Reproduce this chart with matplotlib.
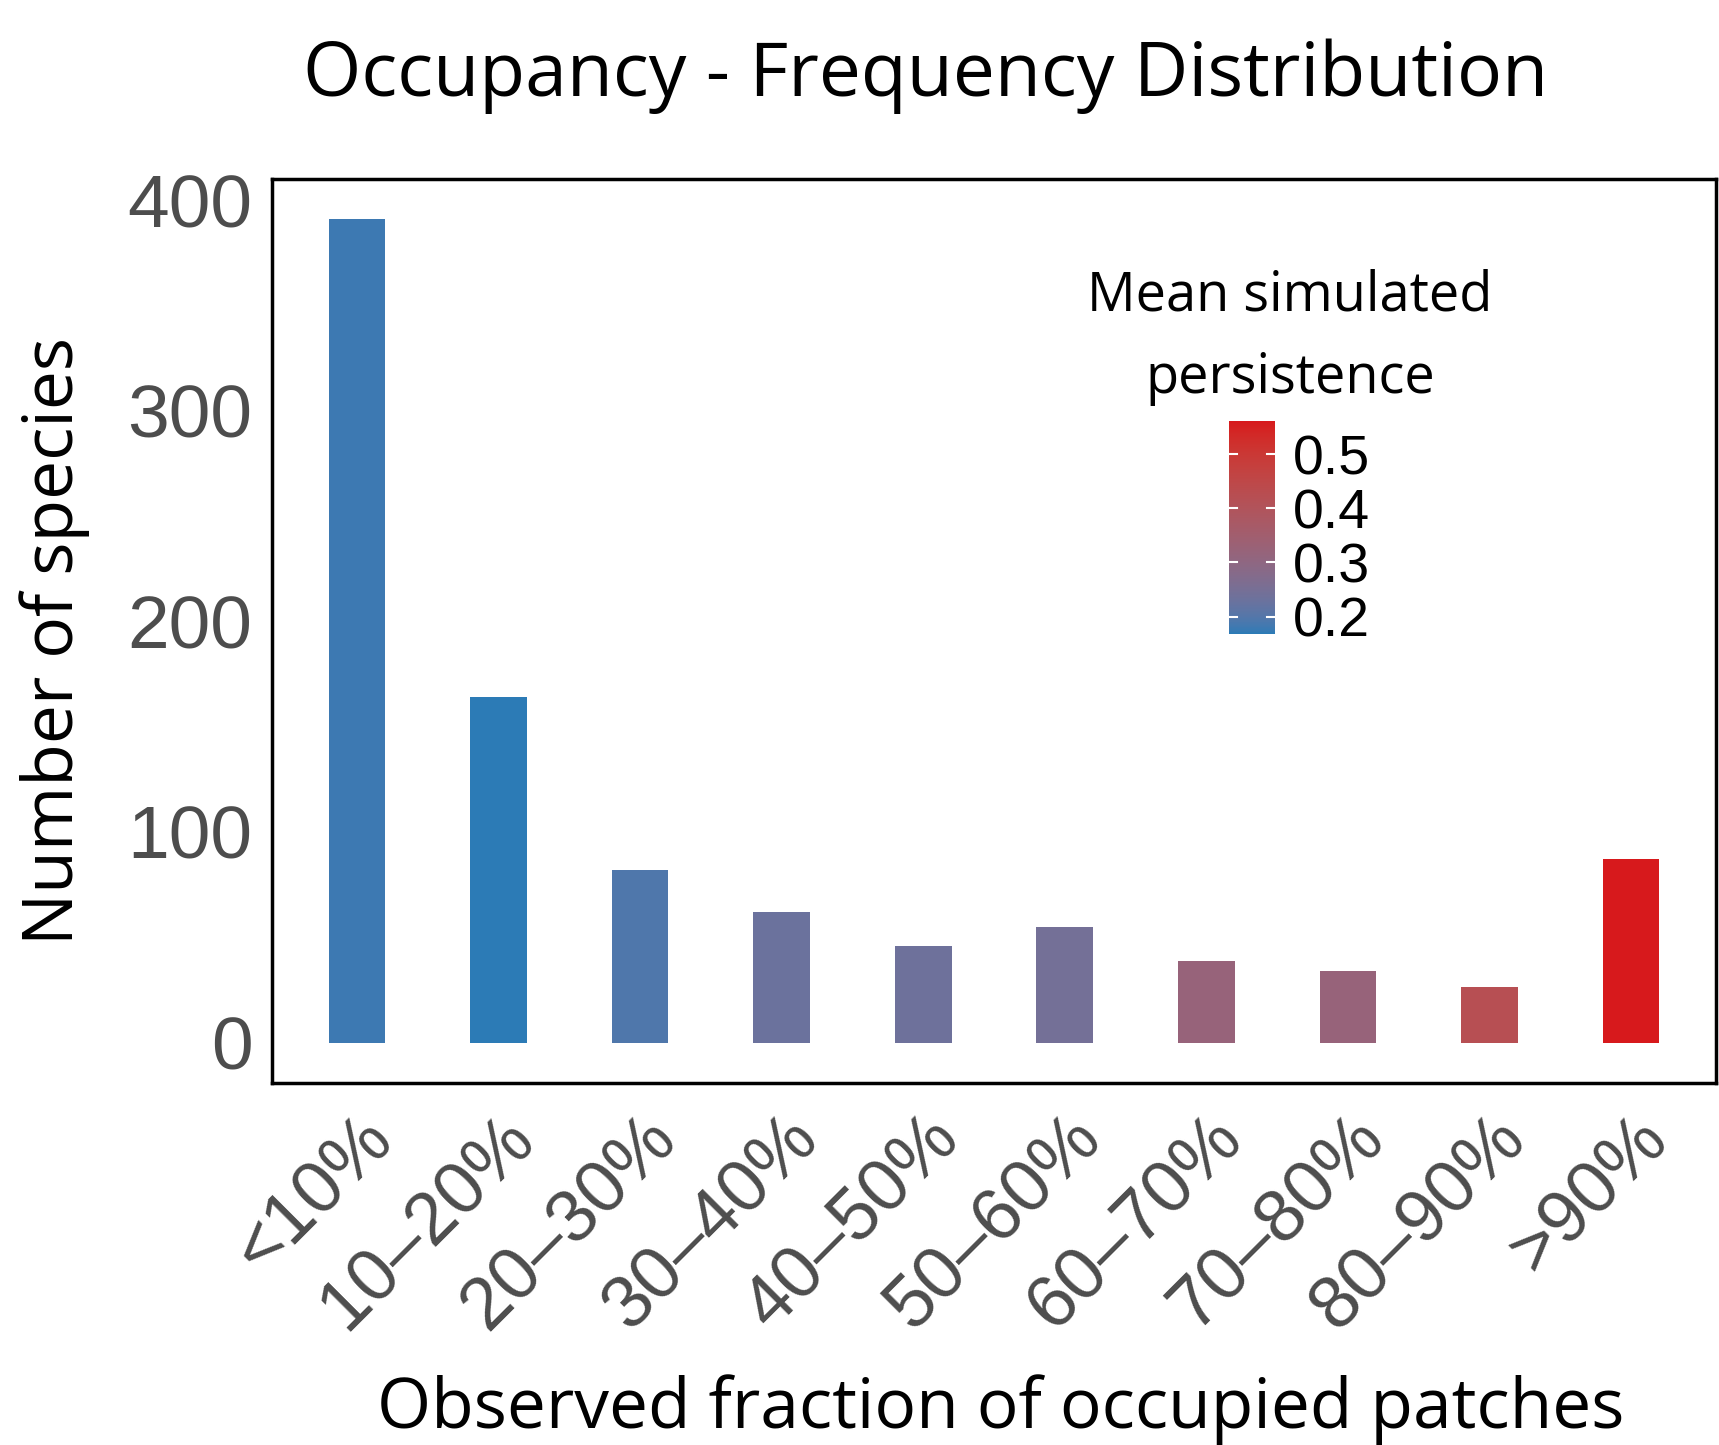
import numpy as np
import matplotlib
matplotlib.use("Agg")
import matplotlib.pyplot as plt
from matplotlib.colors import ListedColormap, Normalize
import matplotlib.transforms as mtransforms

categories = ["<10%", "10\u201320%", "20\u201330%", "30\u201340%", "40\u201350%",
              "50\u201360%", "60\u201370%", "70\u201380%", "80\u201390%", ">90%"]
species_counts = [391, 164, 82, 62, 46, 55, 38.5, 34, 26.5, 87]
mean_persistence = [0.18, 0.168, 0.195, 0.23, 0.235, 0.245, 0.32, 0.32, 0.42, 0.561]
y_ticks = [0, 100, 200, 300, 400]
cbar_ticks = [0.2, 0.3, 0.4, 0.5]
low_color = "#2C7BB6"
high_color = "#D7191C"

# ---- Lab-space gradient (like ggplot2 scale_fill_gradient) ----
def _srgb_to_lin(c):
    c = np.asarray(c, float)
    return np.where(c <= 0.04045, c / 12.92, ((c + 0.055) / 1.055) ** 2.4)

def _lin_to_srgb(c):
    c = np.clip(c, 0, 1)
    return np.where(c <= 0.0031308, 12.92 * c, 1.055 * c ** (1 / 2.4) - 0.055)

M = np.array([[0.4124, 0.3576, 0.1805], [0.2126, 0.7152, 0.0722], [0.0193, 0.1192, 0.9505]])
WP = np.array([0.95047, 1.0, 1.08883])

def _f(t):
    d = 6 / 29
    return np.where(t > d ** 3, np.cbrt(t), t / (3 * d * d) + 4 / 29)

def _finv(t):
    d = 6 / 29
    return np.where(t > d, t ** 3, 3 * d * d * (t - 4 / 29))

def hex_to_lab(h):
    rgb = np.array(matplotlib.colors.to_rgb(h))
    xyz = M @ _srgb_to_lin(rgb) / WP
    fx, fy, fz = _f(xyz)
    return np.array([116 * fy - 16, 500 * (fx - fy), 200 * (fy - fz)])

def lab_to_rgb(lab):
    L, a, b = lab
    fy = (L + 16) / 116
    fx = fy + a / 500
    fz = fy - b / 200
    xyz = np.array([_finv(fx), _finv(fy), _finv(fz)]) * WP
    return _lin_to_srgb(np.linalg.solve(M, xyz))

lab_lo, lab_hi = hex_to_lab(low_color), hex_to_lab(high_color)
cols = [lab_to_rgb(lab_lo + (lab_hi - lab_lo) * t) for t in np.linspace(0, 1, 256)]
cmap = ListedColormap(cols)
norm = Normalize(vmin=min(mean_persistence), vmax=max(mean_persistence))

W, H = 1719, 1445
fig = plt.figure(figsize=(W / 100, H / 100), dpi=100)

ax = fig.add_axes([272 / W, 1 - 1083 / H, (1716 - 272) / W, (1083 - 179) / H])
x = np.arange(len(categories))
ax.bar(x, species_counts, width=0.4, color=cmap(norm(mean_persistence)))
ax.set_xlim(-0.6, len(categories) - 0.4)
ax.set_ylim(-19.2, 410)
ax.set_yticks(y_ticks)
ax.set_yticklabels([str(v) for v in y_ticks], fontsize=54, color="#4d4d4d",
                   family="Liberation Sans")
ax.set_xticks(x)
ax.set_xticklabels(categories, fontsize=53, color="#4d4d4d", family="Liberation Sans",
                   rotation=45, ha="right", va="top", rotation_mode="anchor")
offset = mtransforms.ScaledTranslation(0.40, -0.10, fig.dpi_scale_trans)
for lbl in ax.get_xticklabels():
    lbl.set_transform(lbl.get_transform() + offset)
ax.tick_params(axis="both", length=0, pad=14)
for s in ax.spines.values():
    s.set_linewidth(2.5)
    s.set_color("black")

title_font = "Open Sans"
fig.text(926 / W, 1 - 76 / H, "Occupancy - Frequency Distribution", ha="center", va="center",
         fontsize=54, family=title_font)
fig.text(55 / W, 1 - 641 / H, "Number of species", ha="center", va="center",
         rotation=90, fontsize=50, family=title_font)
fig.text(1001 / W, 1 - 1410 / H, "Observed fraction of occupied patches", ha="center", va="center",
         fontsize=50, family=title_font)
fig.text(1290 / W, 1 - 296 / H, "Mean simulated", ha="center", va="center",
         fontsize=39, family=title_font)
fig.text(1290 / W, 1 - 378 / H, "persistence", ha="center", va="center",
         fontsize=39, family=title_font)

# colorbar
cax = fig.add_axes([1229 / W, 1 - 634 / H, 46 / W, 213 / H])
sm = matplotlib.cm.ScalarMappable(norm=norm, cmap=cmap)
cb = fig.colorbar(sm, cax=cax)
cb.outline.set_visible(False)
cb.set_ticks(cbar_ticks)
cb.set_ticklabels([f"{v:.1f}" for v in cbar_ticks])
cax.tick_params(axis="y", length=0, pad=13, labelsize=40)
for lbl in cax.get_yticklabels():
    lbl.set_family("Liberation Sans")
for v in cbar_ticks:
    cax.plot([0, 0.18], [v, v], color="white", lw=1.5, transform=cax.get_yaxis_transform())
    cax.plot([0.82, 1.0], [v, v], color="white", lw=1.5, transform=cax.get_yaxis_transform())

fig.savefig("out.png", dpi=100)
